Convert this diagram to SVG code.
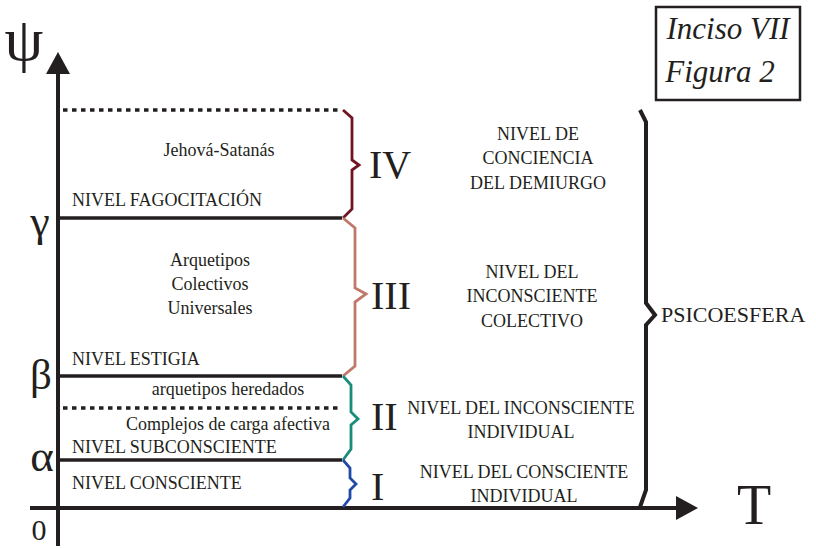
<svg xmlns="http://www.w3.org/2000/svg" width="816" height="548" viewBox="0 0 816 548">
<style>
.t{font-family:"Liberation Serif","Times New Roman",serif;fill:#231f20}
.s{font-size:18px}
.m{text-anchor:middle}
.r{font-size:40px}
.ln{stroke:#231f20;stroke-width:3.5;fill:none}
.dt{stroke:#231f20;stroke-width:3.5;stroke-dasharray:4.5 4.5;fill:none}
.br{stroke-width:2.8;fill:none;stroke-linejoin:miter}
</style>
<rect width="816" height="548" fill="#fff"/>
<g id="axes">
<line x1="58" y1="70" x2="58" y2="546" stroke="#231f20" stroke-width="4"/>
<polygon points="58,52 46,74 70,74" fill="#231f20"/>
<line x1="30" y1="508" x2="680" y2="508" stroke="#231f20" stroke-width="4"/>
<polygon points="698,508 676,496 676,520" fill="#231f20"/>
<text class="t" x="24" y="60" font-size="62" text-anchor="middle">ψ</text>
<text class="t" x="754" y="524" font-size="56" text-anchor="middle">T</text>
<text class="t" x="39" y="540" font-size="30" text-anchor="middle">0</text>
<text class="t" x="40" y="236" font-size="44" text-anchor="middle">γ</text>
<text class="t" x="41" y="389" font-size="43" text-anchor="middle">β</text>
<text class="t" x="42" y="471" font-size="45" text-anchor="middle">α</text>
</g>
<g id="levels">
<line class="dt" x1="63" y1="110" x2="342" y2="110"/>
<line class="ln" x1="58" y1="218" x2="342" y2="218"/>
<line class="ln" x1="58" y1="376" x2="342" y2="376"/>
<line class="dt" x1="63" y1="408" x2="342" y2="408"/>
<line class="ln" x1="58" y1="460" x2="342" y2="460"/>
</g>
<g id="connectors">
<path class="br" stroke="#6e1423" d="M343,110 L352,118 L352,160 L359,165 L352,170 L352,209 L343,218"/>
<path class="br" stroke="#c0786a" d="M343,218 L355,228 L355,288 L366,294 L355,302 L355,366 L343,376"/>
<path class="br" stroke="#1a8c7c" d="M343,376 L351,385 L351,412 L358,419 L351,425 L351,449 L343,460"/>
<path class="br" stroke="#2049a8" d="M343,460 L350,468 L350,478 L356,484 L350,490 L350,498 L343,507"/>
<path stroke="#231f20" stroke-width="4" fill="none" d="M640,110 L646,122 L646,303 L655,315 L646,325 L646,490 L640,507"/>
</g>
<g id="box">
<rect x="656" y="7" width="144" height="93" fill="none" stroke="#231f20" stroke-width="2.5"/>
<text class="t" x="728" y="39" font-size="31" font-style="italic" text-anchor="middle">Inciso VII</text>
<text class="t" x="720" y="82" font-size="31" font-style="italic" text-anchor="middle">Figura 2</text>
</g>
<g id="level-IV">
<text class="t s m" x="219" y="156">Jehová-Satanás</text>
<text class="t s" x="72" y="206">NIVEL FAGOCITACIÓN</text>
<text class="t r" x="369" y="178">IV</text>
<text class="t s m" x="538" y="140">NIVEL DE</text>
<text class="t s m" x="538" y="164">CONCIENCIA</text>
<text class="t s m" x="538" y="189">DEL DEMIURGO</text>
</g>
<g id="level-III">
<text class="t s m" x="210" y="266">Arquetipos</text>
<text class="t s m" x="210" y="290">Colectivos</text>
<text class="t s m" x="210" y="314">Universales</text>
<text class="t s" x="72" y="365">NIVEL ESTIGIA</text>
<text class="t r" x="371" y="309">III</text>
<text class="t s m" x="532" y="278">NIVEL DEL</text>
<text class="t s m" x="532" y="302">INCONSCIENTE</text>
<text class="t s m" x="532" y="327">COLECTIVO</text>
</g>
<g id="level-II">
<text class="t s m" x="228" y="395">arquetipos heredados</text>
<text class="t s m" x="228" y="430">Complejos de carga afectiva</text>
<text class="t s" x="72" y="453">NIVEL SUBCONSCIENTE</text>
<text class="t r" x="371" y="430">II</text>
<text class="t s m" x="521" y="414">NIVEL DEL INCONSCIENTE</text>
<text class="t s m" x="521" y="438">INDIVIDUAL</text>
</g>
<g id="level-I">
<text class="t s" x="72" y="489">NIVEL CONSCIENTE</text>
<text class="t r" x="371" y="500">I</text>
<text class="t s m" x="524" y="478">NIVEL DEL CONSCIENTE</text>
<text class="t s m" x="524" y="502">INDIVIDUAL</text>
</g>
<g id="psicoesfera">
<text class="t" x="661" y="322" font-size="22">PSICOESFERA</text>
</g>
</svg>
